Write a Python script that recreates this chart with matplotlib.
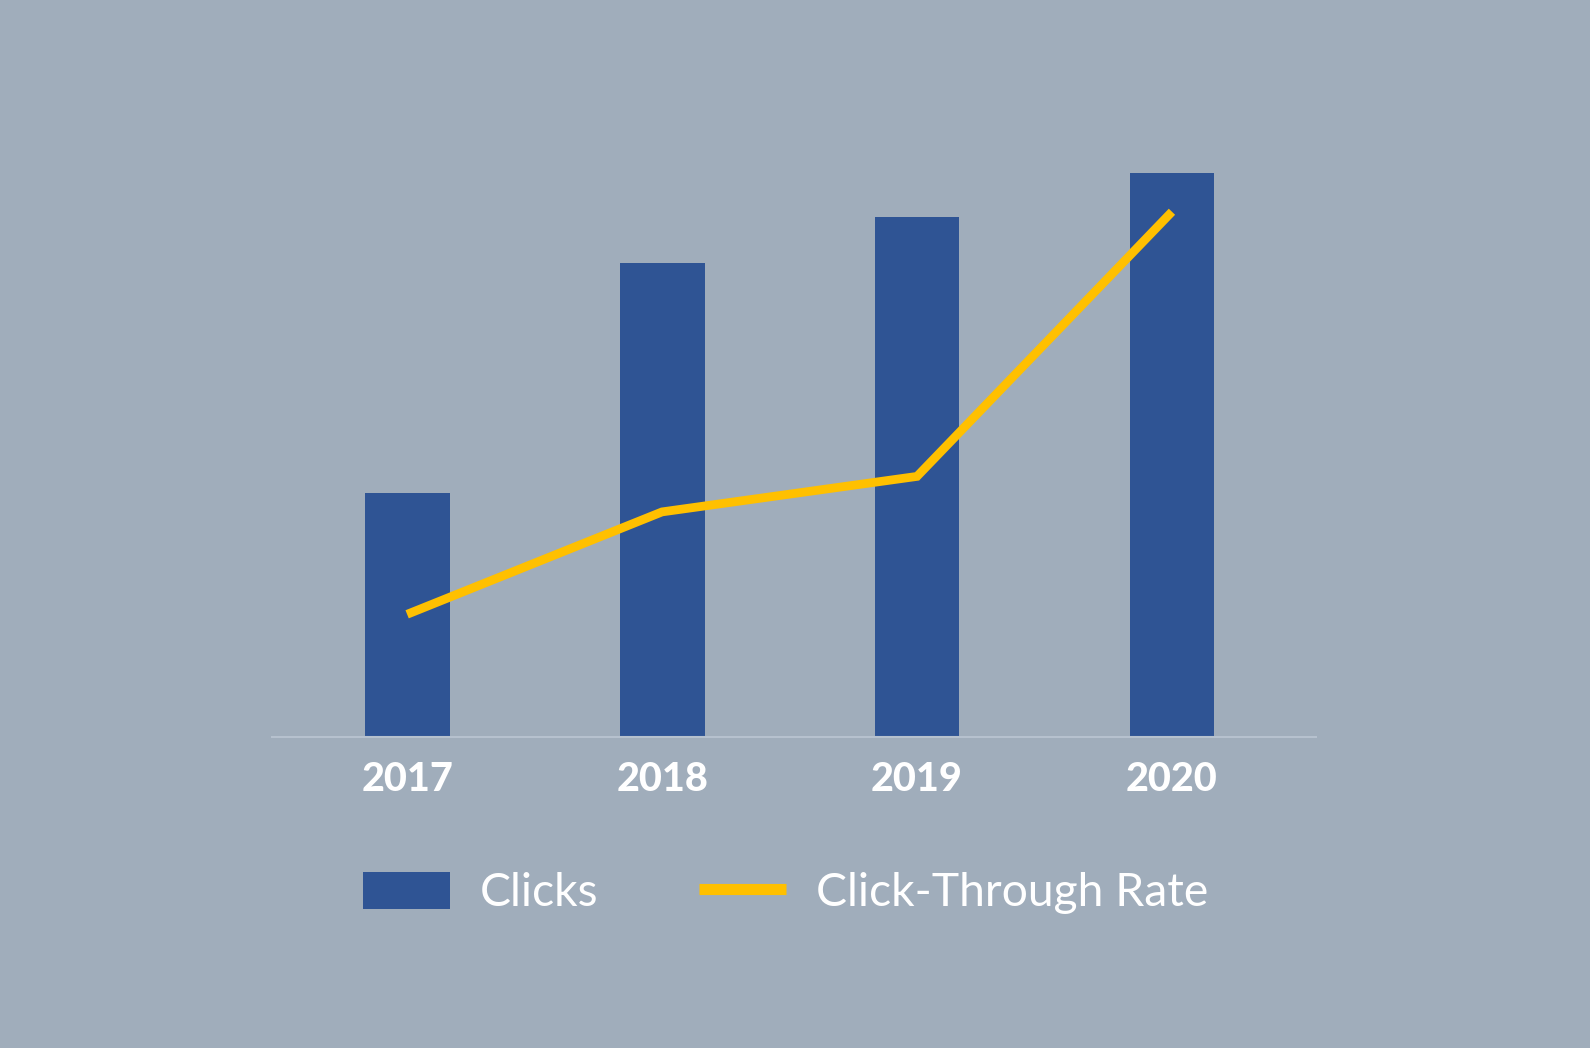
import matplotlib
matplotlib.use("Agg")
import matplotlib.pyplot as plt
from matplotlib.patches import Rectangle, Patch
from matplotlib.lines import Line2D

years = ["2017", "2018", "2019", "2020"]
clicks = [241, 467, 513, 556]
ctr = [1.21, 2.22, 2.57, 5.18]

BG = "#A0ADBB"
BAR = "#2F5494"
YEL = "#FFC000"
AXL = "#B6C1CE"

W, H = 1590, 1060
fig = plt.figure(figsize=(W / 100, H / 100), dpi=100)
fig.patch.set_facecolor("white")
fig.patches.append(Rectangle((0, 12 / H), 1, 1 - 12 / H, transform=fig.transFigure,
                             facecolor=BG, edgecolor="none", zorder=-10))

ax_h = 600 * 1.014
ax = fig.add_axes([272 / W, (H - 737) / H, 1044 / W, ax_h / H])
ax.set_facecolor("none")
x = list(range(len(years)))
ax.bar(x, clicks, width=0.333, color=BAR, zorder=2)
ax.set_xlim(-0.53, 3.565)
ax.set_ylim(0, 600)
for s in ["top", "right", "left"]:
    ax.spines[s].set_visible(False)
ax.spines["bottom"].set_color(AXL)
ax.spines["bottom"].set_linewidth(1.5)
ax.set_yticks([])
ax.set_xticks(x)
ax.set_xticklabels(years, fontfamily="Lato", fontweight="black", fontsize=28.5, color="white")
ax.tick_params(axis="x", length=0, pad=17.5)

ax2 = ax.twinx()
ax2.set_ylim(0, 6)
ax2.plot(x, ctr, color=YEL, lw=6.3, solid_capstyle="butt", solid_joinstyle="miter", zorder=3)
ax2.axis("off")

handles = [Patch(facecolor=BAR, edgecolor="none"),
           Line2D([0], [0], color=YEL, lw=8, solid_capstyle="butt")]
leg = fig.legend(handles, ["Clicks", "Click-Through Rate"], ncol=2, frameon=False,
                 loc="center left", bbox_to_anchor=(363 / W, 1 - 893 / H),
                 prop={"family": "Lato", "size": 33.3}, labelcolor="white",
                 handlelength=1.88, handleheight=0.87, handletextpad=0.65,
                 columnspacing=2.18, borderpad=0, borderaxespad=0)

fig.savefig("out.png", dpi=100, facecolor=fig.get_facecolor())
